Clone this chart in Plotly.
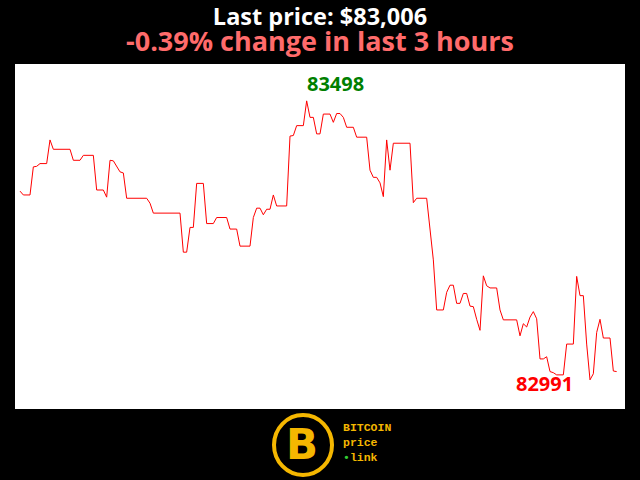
import plotly.graph_objects as go

# minute index within the 3-hour window (vertices)
minutes = [0, 1, 3, 4, 5, 6, 8, 9, 10, 15, 16, 18, 19, 22, 23, 25, 26, 27, 28, 30,
           31, 32, 38, 39, 40, 48, 49, 50, 51, 52, 53, 55, 56, 58, 59, 62, 63, 65, 66, 69,
           70, 71, 72, 73, 74, 75, 76, 77, 80, 81, 82, 83, 85, 86, 87, 88, 89, 90, 91, 93,
           94, 95, 96, 97, 98, 100, 101, 104, 105, 106, 107, 108, 109, 110, 111, 112, 117, 118, 119, 122,
           124, 125, 127, 128, 129, 130, 131, 132, 133, 134, 135, 136, 137, 138, 139, 140, 141, 143, 144, 145,
           149, 150, 151, 152, 153, 154, 155, 156, 157, 158, 159, 160, 161, 163, 164, 166, 167, 168, 169, 170,
           171, 172, 173, 174, 175, 177, 178, 179]

prices = [83334, 83327, 83327, 83378, 83379, 83384, 83384, 83427, 83410, 83410,
          83390, 83390, 83399, 83399, 83336, 83336, 83323, 83390, 83389, 83369,
          83367, 83321, 83321, 83312, 83294, 83294, 83223, 83223, 83268, 83268,
          83348, 83348, 83275, 83275, 83286, 83286, 83265, 83265, 83234, 83234,
          83286, 83303, 83303, 83291, 83301, 83301, 83327, 83307, 83307, 83434,
          83435, 83453, 83453, 83498, 83468, 83468, 83438, 83438, 83474, 83474,
          83459, 83475, 83475, 83468, 83450, 83450, 83432, 83432, 83372, 83359,
          83359, 83349, 83324, 83427, 83372, 83421, 83421, 83313, 83321, 83321,
          83209, 83118, 83118, 83150, 83163, 83163, 83130, 83130, 83148, 83148,
          83125, 83124, 83101, 83081, 83180, 83162, 83158, 83158, 83118, 83100,
          83100, 83071, 83093, 83087, 83105, 83115, 83102, 83029, 83029, 83033,
          83006, 83004, 83000, 83000, 83056, 83056, 83179, 83144, 83144, 83056,
          82991, 83002, 83077, 83101, 83067, 83067, 83007, 83006]

title_line1 = "Last price: $83,006"
title_line2 = "-0.39% change in last 3 hours"
logo_lines = ["BITCOIN", "price", "link"]

max_price = max(prices)
min_price = min(prices)
max_minute = minutes[prices.index(max_price)]
min_minute = minutes[prices.index(min_price)]

fig = go.Figure()
fig.add_trace(go.Scatter(x=minutes, y=prices, mode="lines",
                         line=dict(color="#ff0000", width=1), hoverinfo="skip"))

fig.add_annotation(x=max_minute, y=max_price, text=f"<b>{max_price}</b>", showarrow=False,
                   xanchor="left", yanchor="middle", xshift=-2, yshift=17,
                   font=dict(family="Open Sans", size=20, color="#008000"))
fig.add_annotation(x=min_minute, y=min_price, text=f"<b>{min_price}</b>", showarrow=False,
                   xanchor="right", yanchor="middle", xshift=-15, yshift=-4,
                   font=dict(family="Open Sans", size=20, color="#ff0000"))

title_text = (f"<b><span style='font-size:23.5px;color:#ffffff'>{title_line1}</span><br>"
              f"<span style='font-size:27px;color:#ff6b6b'>{title_line2}</span></b>")
fig.add_annotation(xref="paper", yref="paper", x=0.5, y=1.101, text=title_text,
                   showarrow=False, xanchor="center", yanchor="middle", align="center",
                   font=dict(family="Open Sans", size=20, color="#ffffff"))

# logo
gold = "#f5b700"
fig.add_shape(type="circle", xref="paper", yref="paper",
              x0=0.4246, x1=0.5197, y0=-0.1913, y1=-0.0174,
              line=dict(color=gold, width=4), fillcolor="#000000")
fig.add_annotation(xref="paper", yref="paper", x=0.4705, y=-0.1043, text="<b>B</b>",
                   showarrow=False, xanchor="center", yanchor="middle",
                   font=dict(family="DejaVu Sans", size=42, color=gold))
logo_text = (f"<b>{logo_lines[0]}<br>{logo_lines[1]}<br>"
             f"<span style='color:#33cc33'>\u2022</span>{logo_lines[2]}</b>")
fig.add_annotation(xref="paper", yref="paper", x=0.5339, y=-0.097, text=logo_text,
                   showarrow=False, xanchor="left", yanchor="middle", align="left",
                   font=dict(family="Liberation Mono", size=11.5, color=gold))

fig.update_layout(
    width=640, height=480,
    paper_bgcolor="#000000", plot_bgcolor="#ffffff",
    margin=dict(l=15, r=15, t=64, b=71),
    showlegend=False,
    xaxis=dict(range=[-1.5, 181.5], visible=False, showgrid=False, zeroline=False),
    yaxis=dict(range=[82938, 83565], visible=False, showgrid=False, zeroline=False),
)

fig.write_html("out.html", config={"displayModeBar": False},
               post_script="document.body.style.margin='0';")
